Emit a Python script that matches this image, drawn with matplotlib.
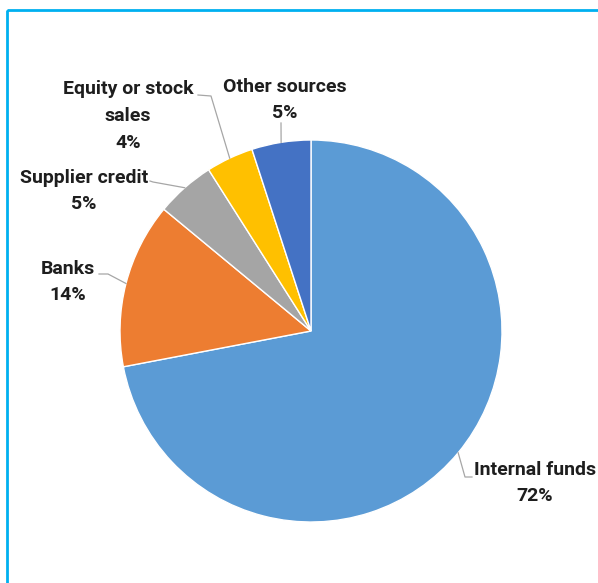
import numpy as np
import matplotlib.pyplot as plt
from matplotlib.patches import Rectangle

labels = ["Internal funds", "Banks", "Supplier credit", "Equity or stock\nsales", "Other sources"]
shares = [72, 14, 5, 4, 5]
colors = ["#5B9BD5", "#ED7D31", "#A5A5A5", "#FFC000", "#4472C4"]

W, H = 598, 583
fig = plt.figure(figsize=(W / 100, H / 100), dpi=100)
ax = fig.add_axes([0, 0, 1, 1])

# pie centre and radius in pixel units (y grows downward, so flip direction)
cx, cy, r = 311, 331, 191
wedges, _ = ax.pie(shares, colors=colors, startangle=-90, counterclock=True,
                   center=(cx, cy), radius=r, frame=True,
                   wedgeprops=dict(edgecolor="white", linewidth=1.0))
ax.set_xlim(0, W)
ax.set_ylim(H, 0)
ax.axis("off")

# text block centres and leader elbows, per slice
text_pos = [(535, 483), (68, 282), (84, 191), (128, 116), (285, 100)]
elbows = [[(465, 477), (472, 477)],
          [(108, 274), (99, 274)],
          [(153, 182), (150, 181)],
          [(211, 96), (198, 95)],
          [(281, 123)]]

font = ["Roboto", "DejaVu Sans"]
for w, lab, v, (tx, ty), el in zip(wedges, labels, shares, text_pos, elbows):
    mid = np.deg2rad((w.theta1 + w.theta2) / 2)
    ex, ey = cx + r * np.cos(mid), cy + r * np.sin(mid)
    pts = [(ex, ey)] + el
    ax.plot([p[0] for p in pts], [p[1] for p in pts], color="#A6A6A6", lw=0.9,
            zorder=3)
    ax.text(tx, ty, f"{lab}\n{v}%", ha="center", va="center", fontsize=14,
            fontweight="bold", family=font, color="#1E1E1E", linespacing=1.62,
            zorder=4)

# cyan frame
ax.add_patch(Rectangle((7, 10), W + 20, H + 20, fill=False, edgecolor="#00B0F0",
                       lw=2, zorder=5))

fig.savefig("out.png", dpi=100)
